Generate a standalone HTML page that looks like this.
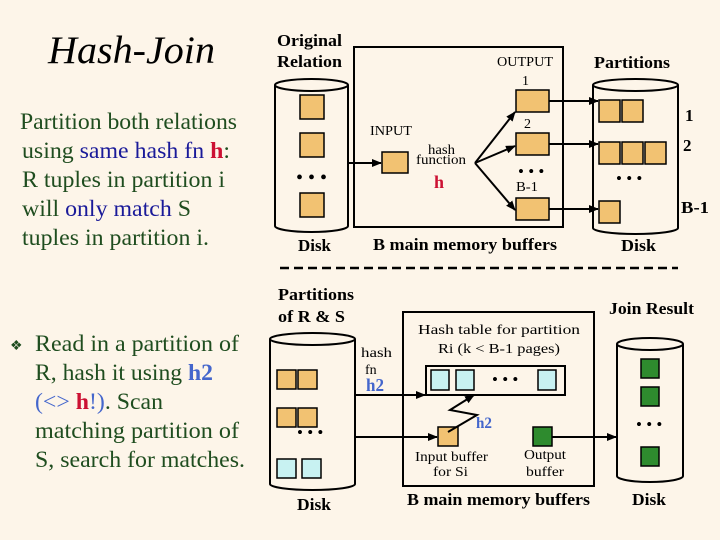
<!DOCTYPE html>
<html><head><meta charset="utf-8"><style>
html,body{margin:0;padding:0;background:#FDF5E9;}
svg{display:block}
</style></head><body>
<svg width="720" height="540" viewBox="0 0 720 540" xmlns="http://www.w3.org/2000/svg">
<defs>
<marker id="a" markerWidth="10" markerHeight="8" refX="9" refY="4" orient="auto" markerUnits="userSpaceOnUse"><path d="M0,0 L10,4 L0,8 Z" fill="#000"/></marker>
</defs>
<rect width="720" height="540" fill="#FDF5E9"/>
<g font-family="Liberation Serif, serif">
<text x="48" y="63" font-size="39" font-style="italic" fill="#000" textLength="167" lengthAdjust="spacingAndGlyphs">Hash-Join</text>
<g font-size="23" fill="#1f4d1f" lengthAdjust="spacingAndGlyphs">
<text x="20" y="129" textLength="217" lengthAdjust="spacingAndGlyphs">Partition both relations</text>
<text x="22" y="158" textLength="208" lengthAdjust="spacingAndGlyphs">using <tspan fill="#1a1a99">same hash fn </tspan><tspan fill="#cc1133" font-weight="bold">h</tspan>:</text>
<text x="22" y="187" textLength="203" lengthAdjust="spacingAndGlyphs">R tuples in partition i</text>
<text x="22" y="216" textLength="169" lengthAdjust="spacingAndGlyphs">will <tspan fill="#1a1a99">only match</tspan> S</text>
<text x="22" y="245" textLength="187" lengthAdjust="spacingAndGlyphs">tuples in partition i.</text>
<text x="10" y="350" font-size="14" fill="#1f4d1f">❖</text>
<text x="35" y="351" textLength="204" lengthAdjust="spacingAndGlyphs">Read in a partition of</text>
<text x="35" y="380" textLength="178" lengthAdjust="spacingAndGlyphs">R, hash it using <tspan fill="#4466cc" font-weight="bold">h2</tspan></text>
<text x="35" y="409" textLength="128" lengthAdjust="spacingAndGlyphs"><tspan fill="#4466cc">(&lt;&gt; </tspan><tspan fill="#cc1133" font-weight="bold">h</tspan><tspan fill="#4466cc">!)</tspan>. Scan</text>
<text x="35" y="438" textLength="204" lengthAdjust="spacingAndGlyphs">matching partition of</text>
<text x="35" y="467" textLength="210" lengthAdjust="spacingAndGlyphs">S, search for matches.</text>
</g>
</g>

<g stroke="#000" stroke-width="2" fill="#FDF5E9">
<path d="M275,85 L275,226 A36.5,6 0 0 0 348,226 L348,85"/>
<ellipse cx="311.5" cy="85" rx="36.5" ry="6"/>
<path d="M593,85 L593,228 A42.5,6 0 0 0 678,228 L678,85"/>
<ellipse cx="635.5" cy="85" rx="42.5" ry="6"/>
<rect x="354" y="47" width="209" height="180"/>
<path d="M270,339 L270,484 A42.5,6 0 0 0 355,484 L355,339"/>
<ellipse cx="312.5" cy="339" rx="42.5" ry="6"/>
<path d="M617,344 L617,476 A33,6 0 0 0 683,476 L683,344"/>
<ellipse cx="650" cy="344" rx="33" ry="6"/>
<rect x="403" y="312" width="191" height="174"/>
<rect x="426" y="366" width="139" height="29"/>
</g>

<g fill="#F2C272" stroke="#000" stroke-width="1.5">
<rect x="300" y="95" width="24" height="24"/>
<rect x="300" y="133" width="24" height="24"/>
<rect x="300" y="193" width="24" height="24"/>
<rect x="382" y="152" width="26" height="21"/>
<rect x="516" y="90" width="33" height="22"/>
<rect x="516" y="133" width="33" height="22"/>
<rect x="516" y="198" width="33" height="22"/>
<rect x="599" y="100" width="21" height="22"/>
<rect x="622" y="100" width="21" height="22"/>
<rect x="599" y="142" width="21" height="22"/>
<rect x="622" y="142" width="21" height="22"/>
<rect x="645" y="142" width="21" height="22"/>
<rect x="599" y="201" width="21" height="22"/>
<rect x="277" y="370" width="19" height="19"/>
<rect x="298" y="370" width="19" height="19"/>
<rect x="277" y="408" width="19" height="19"/>
<rect x="298" y="408" width="19" height="19"/>
<rect x="438" y="427" width="20" height="19"/>
</g>
<g fill="#C8F2F2" stroke="#000" stroke-width="1.5">
<rect x="277" y="459" width="19" height="19"/>
<rect x="302" y="459" width="19" height="19"/>
<rect x="431" y="370" width="18" height="20"/>
<rect x="456" y="370" width="18" height="20"/>
<rect x="538" y="370" width="18" height="20"/>
</g>
<g fill="#2E8B2E" stroke="#000" stroke-width="1.5">
<rect x="533" y="427" width="19" height="19"/>
<rect x="641" y="359" width="18" height="19"/>
<rect x="641" y="387" width="18" height="19"/>
<rect x="641" y="447" width="18" height="19"/>
</g>

<g stroke="#000" stroke-width="2" fill="none" marker-end="url(#a)">
<line x1="348" y1="163" x2="381" y2="163"/>
<line x1="475" y1="163" x2="515" y2="112"/>
<line x1="475" y1="163" x2="515" y2="146"/>
<line x1="475" y1="163" x2="515" y2="210"/>
<line x1="549" y1="101" x2="598" y2="101"/>
<line x1="549" y1="144" x2="598" y2="144"/>
<line x1="549" y1="209" x2="598" y2="209"/>
<line x1="355" y1="395" x2="425" y2="395"/>
<line x1="355" y1="437" x2="437" y2="437"/>
<line x1="552" y1="437" x2="616" y2="437"/>
<polyline points="448,432 477,415 450,410 474,395"/>
</g>
<line x1="280" y1="268" x2="678" y2="268" stroke="#000" stroke-width="2.5" stroke-dasharray="9,5"/>

<g font-family="Liberation Serif, serif" font-size="20" fill="#000">
<text x="296" y="184">• • •</text>
<text x="518" y="177" font-size="17">• • •</text>
<text x="616" y="184" font-size="17">• • •</text>
<text x="297" y="438" font-size="17">• • •</text>
<text x="492" y="385" font-size="17">• • •</text>
<text x="636" y="430" font-size="17">• • •</text>
</g>

<g font-family="Liberation Serif, serif" font-weight="bold" fill="#000" font-size="17" lengthAdjust="spacingAndGlyphs">
<text x="277" y="46" textLength="65" lengthAdjust="spacingAndGlyphs">Original</text>
<text x="277" y="67" textLength="65" lengthAdjust="spacingAndGlyphs">Relation</text>
<text x="594" y="68" textLength="76" lengthAdjust="spacingAndGlyphs">Partitions</text>
<text x="298" y="251" textLength="33" lengthAdjust="spacingAndGlyphs">Disk</text>
<text x="373" y="250" textLength="184" lengthAdjust="spacingAndGlyphs">B main memory buffers</text>
<text x="621" y="251" textLength="35" lengthAdjust="spacingAndGlyphs">Disk</text>
<text x="685" y="121">1</text>
<text x="683" y="151">2</text>
<text x="681" y="213" textLength="28" lengthAdjust="spacingAndGlyphs">B-1</text>
<text x="278" y="300" textLength="76" lengthAdjust="spacingAndGlyphs">Partitions</text>
<text x="278" y="322" textLength="67" lengthAdjust="spacingAndGlyphs">of R &amp; S</text>
<text x="609" y="314" textLength="85" lengthAdjust="spacingAndGlyphs">Join Result</text>
<text x="297" y="510" textLength="34" lengthAdjust="spacingAndGlyphs">Disk</text>
<text x="407" y="505" textLength="183" lengthAdjust="spacingAndGlyphs">B main memory buffers</text>
<text x="632" y="505" textLength="34" lengthAdjust="spacingAndGlyphs">Disk</text>
</g>
<g font-family="Liberation Serif, serif" fill="#000" font-size="14">
<text x="497" y="66" textLength="56" lengthAdjust="spacingAndGlyphs">OUTPUT</text>
<text x="522" y="85">1</text>
<text x="524" y="128">2</text>
<text x="370" y="135" textLength="42" lengthAdjust="spacingAndGlyphs">INPUT</text>
<text x="516" y="191" textLength="22" lengthAdjust="spacingAndGlyphs">B-1</text>
<text x="428" y="154" textLength="27" lengthAdjust="spacingAndGlyphs">hash</text>
<text x="416" y="164" textLength="50" lengthAdjust="spacingAndGlyphs">function</text>
<text x="418" y="334" textLength="162" lengthAdjust="spacingAndGlyphs">Hash table for partition</text>
<text x="438" y="353" textLength="122" lengthAdjust="spacingAndGlyphs">Ri (k &lt; B-1 pages)</text>
<text x="361" y="357" textLength="31" lengthAdjust="spacingAndGlyphs">hash</text>
<text x="365" y="374">fn</text>
<text x="415" y="461" textLength="73" lengthAdjust="spacingAndGlyphs">Input buffer</text>
<text x="433" y="476" textLength="35" lengthAdjust="spacingAndGlyphs">for Si</text>
<text x="524" y="459" textLength="42" lengthAdjust="spacingAndGlyphs">Output</text>
<text x="526" y="476" textLength="38" lengthAdjust="spacingAndGlyphs">buffer</text>
</g>
<g font-family="Liberation Serif, serif" font-weight="bold" font-size="18">
<text x="434" y="188" fill="#cc1133">h</text>
<text x="366" y="391" fill="#4466cc" textLength="18" lengthAdjust="spacingAndGlyphs">h2</text>
<text x="476" y="428" fill="#4466cc" font-size="16" textLength="16" lengthAdjust="spacingAndGlyphs">h2</text>
</g>
</svg>
</body></html>
